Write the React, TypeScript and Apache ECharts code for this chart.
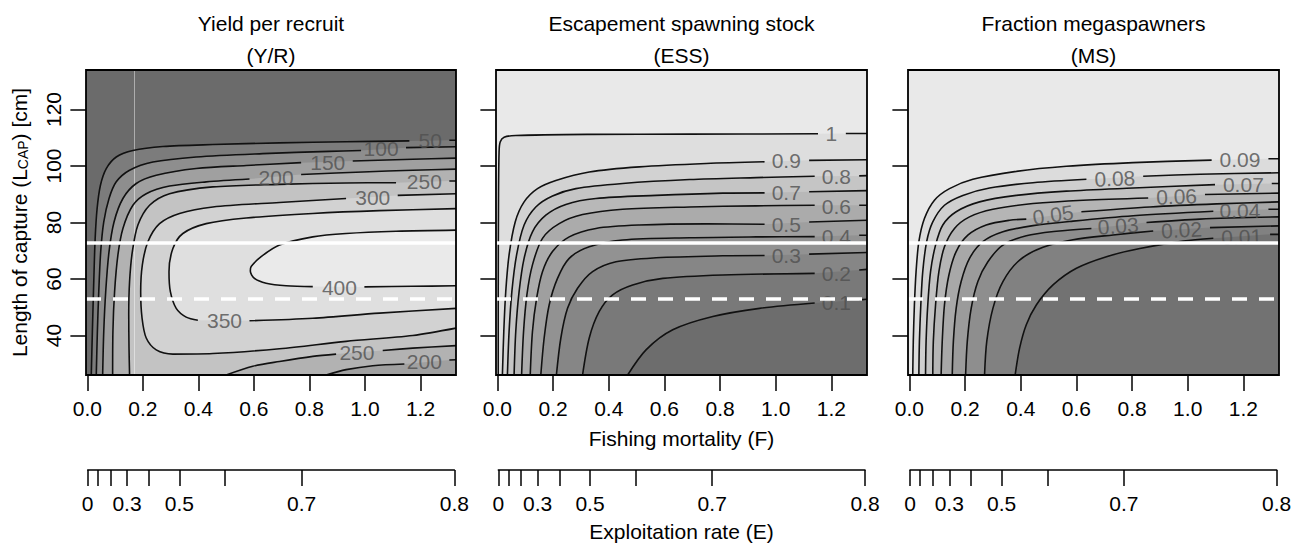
import React, { useEffect, useRef } from "react";
import * as echarts from "echarts";

type Pt = [number, number];
type Contour = Pt[][];
type Label = [string, number, number, number];

const FONT = '"Liberation Sans", Arial, Helvetica, sans-serif';
const FS = 21;

// ---- axes ----
const F_RANGE: Pt = [-0.005, 1.328];
const L_RANGE: Pt = [26, 134];
const fTicks = [0, 0.2, 0.4, 0.6, 0.8, 1.0, 1.2];
const lTicks = [40, 60, 80, 100, 120];
const M_NAT = 0.33; // E = F / (F + M)
const E_F_MAX = 1.32;
const eTicks = [0, 0.1, 0.2, 0.3, 0.4, 0.5, 0.6, 0.7, 0.8];
const eLabelled = [0, 0.3, 0.5, 0.7, 0.8];
const refLines = [73, 53]; // solid, dashed
const yrVertical = 0.168;

// ---- Yield per recruit contours (F, L) ----
const yr50: Contour = [
  [[0.014, 26], [0.018, 41.4], [0.023, 59.1], [0.028, 74.3], [0.035, 84.9], [0.047, 93.2], [0.068, 99.1], [0.104, 103.2], [0.164, 105.5], [0.272, 106.9], [0.452, 107.6], [0.692, 108.2], [0.932, 108.6], [1.16, 108.9]],
  [[1.304, 109.1], [1.328, 109.1]],
];
const yr100: Contour = [
  [[0.032, 26], [0.036, 41.4], [0.041, 55.5], [0.048, 69.7], [0.059, 80.2], [0.078, 88.5], [0.104, 94.4], [0.152, 98.5], [0.236, 101.4], [0.392, 103.2], [0.632, 104.4], [0.872, 105.2], [0.986, 105.5]],
  [[1.148, 106.5], [1.328, 106.8]],
];
const yr150: Contour = [
  [[0.055, 26], [0.059, 41.4], [0.066, 55.5], [0.078, 69.7], [0.096, 80.2], [0.128, 88.5], [0.176, 93.8], [0.248, 96.7], [0.392, 99.1], [0.572, 100.2], [0.77, 101.2]],
  [[0.956, 101.8], [1.172, 102.4], [1.328, 102.8]],
];
const yr200: Contour = [
  [[0.091, 26], [0.092, 41.4], [0.098, 55.5], [0.11, 68.5], [0.128, 77.9], [0.164, 86.1], [0.212, 90.2], [0.296, 92.9], [0.428, 94.4], [0.584, 95.4]],
  [[0.77, 97.0], [0.992, 97.9], [1.172, 98.5], [1.328, 98.9]],
];
const yr250: Contour = [
  [[0.152, 26], [0.15, 35.5], [0.149, 47.3], [0.152, 59.1], [0.162, 69.7], [0.182, 79.1], [0.224, 86.1], [0.296, 90.2], [0.452, 92.6], [0.692, 93.5], [0.932, 94.0], [1.112, 94.1]],
  [[1.304, 94.7], [1.328, 94.7]],
];
const yr300: Contour = [
  [[1.328, 90.2], [1.118, 89.6]],
  [[0.932, 88.5], [0.692, 87.1], [0.452, 85.5], [0.332, 83.2], [0.26, 79.6], [0.218, 73.2], [0.198, 65.0], [0.192, 55.5], [0.197, 46.1], [0.212, 39.1], [0.248, 34.9], [0.308, 33.4], [0.452, 33.6], [0.692, 35.3], [0.932, 37.9], [1.172, 40.0], [1.328, 42.6]],
];
const yr350: Contour = [
  [[1.328, 84.9], [1.052, 84.2], [0.812, 83.2], [0.572, 81.6], [0.428, 79.6], [0.344, 76.1], [0.308, 70.8], [0.294, 62.6], [0.299, 55.5], [0.32, 49.6], [0.356, 46.5], [0.398, 45.4]],
  [[0.584, 45.2], [0.812, 46.1], [1.052, 47.9], [1.328, 49.6]],
];
const yr400: Contour = [
  [[1.328, 77.3], [1.112, 76.9], [0.932, 76.1], [0.812, 74.9], [0.692, 72.0], [0.626, 67.9], [0.59, 64.4], [0.587, 62.8], [0.602, 60.2], [0.644, 58.5], [0.716, 57.6], [0.812, 57.3]],
  [[0.998, 57.2], [1.172, 57.4], [1.328, 57.6]],
];
const yr250Low: Contour = [
  [[0.5, 26], [0.596, 29.1], [0.692, 30.8], [0.812, 32.6], [0.896, 33.4]],
  [[1.064, 34.7], [1.172, 35.5], [1.328, 36.4]],
];
const yr200Low: Contour = [
  [[0.86, 26], [0.932, 27.9], [1.028, 29.3], [1.142, 29.9]],
  [[1.304, 31.3], [1.328, 31.4]],
];
const yrLabels: Label[] = [
  ["50", 1.235, 108.9, 0], ["100", 1.058, 106.1, 0], ["150", 0.866, 101.4, 0], ["200", 0.68, 95.9, 0],
  ["250", 1.214, 94.4, 0], ["300", 1.028, 88.7, 0], ["400", 0.908, 56.9, 0], ["350", 0.494, 45.3, 0],
  ["250", 0.971, 33.8, 0], ["200", 1.214, 30.8, 0],
];

// ---- Escapement spawning stock contours ----
const ess1: Contour = [
  [[0.003, 26], [0.003, 53.2], [0.004, 88.5], [0.006, 104.9], [0.01, 108.5], [0.024, 110.2], [0.066, 110.8], [0.33, 111.2], [0.69, 111.3], [1.152, 111.4]],
  [[1.252, 111.5], [1.328, 111.5]],
];
const ess09: Contour = [
  [[0.018, 26], [0.023, 41.4], [0.03, 55.5], [0.042, 68.5], [0.064, 80.2], [0.096, 87.3], [0.144, 92.0], [0.21, 94.9], [0.33, 97.9], [0.51, 99.7], [0.75, 100.9], [0.96, 101.5]],
  [[1.12, 102.0], [1.328, 102.2]],
];
const ess08: Contour = [
  [[0.036, 26], [0.042, 41.4], [0.052, 55.5], [0.069, 68.5], [0.096, 79.1], [0.138, 85.5], [0.198, 89.4], [0.282, 92.0], [0.45, 93.8], [0.69, 95.2], [0.93, 95.9], [1.14, 96.4]],
  [[1.3, 96.5], [1.328, 96.6]],
];
const ess07: Contour = [
  [[0.06, 26], [0.066, 41.4], [0.078, 55.5], [0.096, 67.3], [0.126, 76.7], [0.174, 82.6], [0.246, 86.4], [0.354, 88.5], [0.57, 89.6], [0.81, 90.4], [0.96, 90.5]],
  [[1.12, 90.9], [1.328, 91.3]],
];
const ess06: Contour = [
  [[0.087, 26], [0.094, 41.4], [0.106, 54.4], [0.126, 65.0], [0.162, 74.4], [0.222, 79.6], [0.306, 82.8], [0.45, 84.7], [0.69, 85.5], [0.93, 85.9], [1.14, 86.1]],
  [[1.3, 86.1], [1.328, 86.1]],
];
const ess05: Contour = [
  [[0.118, 26], [0.126, 41.4], [0.141, 53.2], [0.162, 62.6], [0.198, 69.7], [0.258, 74.9], [0.354, 77.9], [0.51, 79.1], [0.75, 79.5], [0.96, 79.4]],
  [[1.12, 80.2], [1.328, 80.8]],
];
const ess04: Contour = [
  [[0.156, 26], [0.168, 39.1], [0.186, 50.8], [0.216, 60.2], [0.258, 67.3], [0.33, 71.4], [0.45, 73.8], [0.69, 74.6], [0.93, 74.9], [1.14, 75.0]],
  [[1.3, 75.5], [1.328, 75.5]],
];
const ess03: Contour = [
  [[0.212, 26], [0.228, 39.1], [0.252, 49.6], [0.288, 56.7], [0.342, 62.6], [0.426, 66.1], [0.57, 67.5], [0.81, 68.2], [0.96, 68.3]],
  [[1.12, 68.8], [1.328, 69.4]],
];
const ess02: Contour = [
  [[0.306, 26], [0.33, 39.1], [0.366, 48.5], [0.414, 54.4], [0.486, 57.9], [0.594, 60.2], [0.81, 61.4], [1.14, 62.0]],
  [[1.3, 63.2], [1.328, 63.4]],
];
const ess01: Contour = [
  [[0.468, 26], [0.534, 34.9], [0.63, 42.0], [0.774, 46.7], [0.942, 49.6], [1.14, 51.5]],
  [[1.3, 52.6], [1.328, 52.8]],
];
const essLabels: Label[] = [
  ["1", 1.2, 111.4, 0], ["0.9", 1.038, 101.8, 0], ["0.8", 1.218, 96.4, 0], ["0.7", 1.038, 90.5, 0],
  ["0.6", 1.218, 85.5, 0], ["0.5", 1.038, 79.3, 0], ["0.4", 1.218, 74.9, 0], ["0.3", 1.038, 68.2, 0],
  ["0.2", 1.218, 62.0, 0], ["0.1", 1.218, 51.8, 0],
];

// ---- Fraction megaspawners contours ----
const ms09: Contour = [
  [[0.012, 26], [0.014, 37.9], [0.018, 50.8], [0.024, 62.6], [0.034, 73.2], [0.054, 81.4], [0.09, 87.9], [0.144, 92.0], [0.228, 95.3], [0.384, 98.1], [0.564, 99.9], [0.804, 101.2], [1.086, 102.1]],
  [[1.29, 102.6], [1.328, 102.6]],
];
const ms08: Contour = [
  [[0.034, 26], [0.036, 37.9], [0.041, 50.8], [0.048, 62.6], [0.062, 73.2], [0.084, 80.2], [0.126, 86.1], [0.192, 89.6], [0.288, 92.2], [0.444, 94.1], [0.636, 95.3]],
  [[0.84, 96.4], [1.044, 97.1], [1.328, 97.6]],
];
const ms07: Contour = [
  [[0.058, 26], [0.06, 37.9], [0.066, 50.8], [0.076, 62.6], [0.094, 72.0], [0.12, 79.1], [0.168, 83.8], [0.252, 87.3], [0.384, 89.6], [0.564, 91.1], [0.804, 92.2], [1.098, 93.4]],
  [[1.302, 93.8], [1.328, 93.8]],
];
const ms06: Contour = [
  [[0.084, 26], [0.086, 37.9], [0.094, 50.8], [0.106, 62.6], [0.126, 71.4], [0.162, 77.9], [0.216, 82.0], [0.3, 84.7], [0.444, 86.7], [0.624, 87.9], [0.858, 88.7]],
  [[1.062, 89.9], [1.328, 90.4]],
];
const ms05: Contour = [
  [[0.114, 26], [0.118, 37.9], [0.126, 50.8], [0.142, 61.4], [0.168, 69.7], [0.21, 75.5], [0.276, 79.1], [0.36, 80.8], [0.42, 81.2]],
  [[0.618, 83.8], [0.864, 85.5], [1.104, 86.6], [1.328, 87.3]],
];
const ms04: Contour = [
  [[0.154, 26], [0.158, 37.9], [0.168, 49.6], [0.186, 59.1], [0.216, 67.3], [0.264, 73.2], [0.336, 76.7], [0.444, 78.9], [0.588, 80.5], [0.804, 82.4], [1.092, 84.0]],
  [[1.29, 84.7], [1.328, 84.7]],
];
const ms03: Contour = [
  [[0.202, 26], [0.208, 37.9], [0.222, 49.6], [0.246, 59.1], [0.282, 66.1], [0.336, 72.0], [0.42, 75.3], [0.528, 76.9], [0.654, 77.9]],
  [[0.852, 80.0], [1.044, 81.2], [1.328, 82.0]],
];
const ms02: Contour = [
  [[0.27, 26], [0.278, 37.9], [0.3, 49.6], [0.336, 59.1], [0.396, 66.7], [0.48, 71.2], [0.588, 73.9], [0.732, 75.6], [0.876, 77.0]],
  [[1.08, 78.2], [1.328, 78.8]],
];
const ms01: Contour = [
  [[0.38, 26], [0.396, 35.5], [0.42, 43.8], [0.456, 50.8], [0.516, 57.9], [0.6, 63.8], [0.708, 67.9], [0.828, 70.8], [0.984, 73.4], [1.092, 74.4]],
  [[1.296, 75.8], [1.328, 75.8]],
];
const msLabels: Label[] = [
  ["0.09", 1.188, 102.4, 0], ["0.08", 0.738, 95.6, 2], ["0.07", 1.2, 93.5, 0], ["0.06", 0.96, 89.2, 2],
  ["0.05", 0.516, 82.7, 8], ["0.04", 1.188, 84.2, 0], ["0.03", 0.75, 78.8, 4], ["0.02", 0.978, 77.4, 3],
  ["0.01", 1.194, 74.9, 2],
];

// ---- band shades (style) ----
const yrColors = ["#6b6b6b", "#7c7c7c", "#8e8e8e", "#a0a0a0", "#b2b2b2", "#c3c3c3", "#d2d2d2", "#dfdfdf", "#eaeaea"];
const essColors = ["#e9e9e9", "#dedede", "#d2d2d2", "#c5c5c5", "#b8b8b8", "#ababab", "#9f9f9f", "#929292", "#868686", "#797979", "#6d6d6d"];
const msColors = ["#e9e9e9", "#dcdcdc", "#cfcfcf", "#c2c2c2", "#b5b5b5", "#a8a8a8", "#9b9b9b", "#8e8e8e", "#818181", "#727272"];

const titles = [
  ["Yield per recruit", "(Y/R)"],
  ["Escapement spawning stock", "(ESS)"],
  ["Fraction megaspawners", "(MS)"],
];

// ---- layout (pixels) ----
const GRID_LEFT = [86, 496, 908];
const GRID_WIDTH = [370, 371, 371];
const GRID_TOP = 70;
const GRID_H = 305;
const E_LEFT = [87.7, 498.3, 910];
const E_WIDTH = 366.7;
const E_LINE_Y = 470;

function buildOption() {
  const [FMIN, FMAX] = F_RANGE;
  const [LMIN, LMAX] = L_RANGE;
  const rect: Pt[] = [[FMIN, LMIN], [FMAX, LMIN], [FMAX, LMAX], [FMIN, LMAX]];
  const flat = (c: Contour): Pt[] => ([] as Pt[]).concat(...c);
  const toCorner = (c: Contour): Pt[] => [...flat(c), [FMAX, LMIN]];
  const between = (up: Contour, low: Contour): Pt[] => [...flat(up), ...flat(low).slice().reverse()];

  const yrContours = [yr50, yr100, yr150, yr200, yr250, yr300, yr350, yr400, yr250Low, yr200Low];
  const essContours = [ess1, ess09, ess08, ess07, ess06, ess05, ess04, ess03, ess02, ess01];
  const msContours = [ms09, ms08, ms07, ms06, ms05, ms04, ms03, ms02, ms01];

  const panels = [
    {
      polys: [rect, toCorner(yr50), toCorner(yr100), toCorner(yr150), between(yr200, yr200Low), between(yr250, yr250Low), flat(yr300), flat(yr350), flat(yr400)],
      colors: yrColors, contours: yrContours, labels: yrLabels,
    },
    { polys: [rect, ...essContours.map(toCorner)], colors: essColors, contours: essContours, labels: essLabels },
    { polys: [rect, ...msContours.map(toCorner)], colors: msColors, contours: msContours, labels: msLabels },
  ];

  // E -> F position on the axis (rounded to avoid floating-point overshoot of the axis max)
  const eToF = (e: number) => Math.round(((M_NAT * e) / (1 - e)) * 1e6) / 1e6;
  const eTickF = eTicks.map(eToF);
  const eLabelF = eLabelled.map(eToF);

  const grid: any[] = [];
  const xAxis: any[] = [];
  const yAxis: any[] = [];
  const eGrid: any[] = [];
  const eX: any[] = [];
  const eY: any[] = [];
  const series: any[] = [];
  const graphic: any[] = [];
  const tickStyle = { color: "#000", width: 1.5 };

  panels.forEach((p, g) => {
    grid.push({
      left: GRID_LEFT[g], top: GRID_TOP, width: GRID_WIDTH[g], height: GRID_H,
      show: true, z: 10, backgroundColor: "rgba(0,0,0,0)", borderColor: "#000", borderWidth: 1.8,
    });
    xAxis.push({
      type: "value", gridIndex: g, min: FMIN, max: FMAX,
      axisLine: { show: false }, splitLine: { show: false },
      axisTick: { show: true, length: 16, customValues: fTicks, lineStyle: tickStyle },
      axisLabel: { customValues: fTicks, formatter: (v: number) => v.toFixed(1), fontSize: FS, color: "#000", margin: 23, fontFamily: FONT },
    });
    yAxis.push({
      type: "value", gridIndex: g, min: LMIN, max: LMAX,
      axisLine: { show: false }, splitLine: { show: false },
      axisTick: { show: true, length: 17, customValues: lTicks, lineStyle: tickStyle },
      axisLabel: { show: g === 0, customValues: lTicks, rotate: 90, fontSize: FS, color: "#000", margin: 22, fontFamily: FONT },
      ...(g === 0
        ? {
            name: "Length of capture (L{sub|CAP}) [cm]",
            nameLocation: "middle", nameRotate: 90, nameGap: 56,
            nameTextStyle: {
              fontSize: FS, color: "#000", fontFamily: FONT,
              rich: { sub: { fontSize: 14, color: "#000", fontFamily: FONT, verticalAlign: "bottom" } },
            },
          }
        : {}),
    });

    // filled bands
    series.push({
      type: "custom", coordinateSystem: "cartesian2d", xAxisIndex: g, yAxisIndex: g, z: 1, silent: true, clip: true,
      data: p.polys.map((poly) => poly[0]),
      renderItem: (params: any, api: any) => ({
        type: "polygon", z2: params.dataIndex,
        shape: { points: p.polys[params.dataIndex].map((pt) => api.coord(pt)) },
        style: { fill: p.colors[params.dataIndex] },
      }),
    });

    // contour lines
    p.contours.forEach((c) =>
      c.forEach((seg) =>
        series.push({
          type: "line", xAxisIndex: g, yAxisIndex: g, data: seg, symbol: "none", smooth: 0.3,
          lineStyle: { color: "#111", width: 1.6 }, z: 3, silent: true,
        })
      )
    );

    // contour labels
    series.push({
      type: "scatter", xAxisIndex: g, yAxisIndex: g, symbolSize: 0, z: 4, silent: true,
      data: p.labels.map(([t, f, l, r]) => ({ name: t, value: [f, l], label: { rotate: r } })),
      label: { show: true, position: "inside", formatter: "{b}", fontSize: FS, color: "#4f4f4f", fontFamily: FONT },
    });

    // vertical light line (Y/R only)
    if (g === 0) {
      series.push({
        type: "line", xAxisIndex: g, yAxisIndex: g, data: [], silent: true,
        markLine: {
          silent: true, z: 2, symbol: ["none", "none"], animation: false, label: { show: false },
          data: [{ xAxis: yrVertical, lineStyle: { color: "rgba(255,255,255,0.45)", width: 1, type: "solid" } }],
        },
      });
    }

    // white reference lines
    series.push({
      type: "line", xAxisIndex: g, yAxisIndex: g, data: [], silent: true,
      markLine: {
        silent: true, z: 6, symbol: ["none", "none"], animation: false, label: { show: false },
        data: [
          { yAxis: refLines[0], lineStyle: { color: "#fff", width: 3.5, type: "solid" } },
          { yAxis: refLines[1], lineStyle: { color: "#fff", width: 3.5, type: [15, 12] } },
        ],
      },
    });

    // exploitation rate axis
    eGrid.push({ left: E_LEFT[g], top: E_LINE_Y - 1, width: E_WIDTH, height: 1, show: false });
    eX.push({
      type: "value", gridIndex: 3 + g, min: 0, max: E_F_MAX, position: "bottom",
      axisLine: { show: true, lineStyle: tickStyle }, splitLine: { show: false },
      axisTick: { show: true, length: 16, customValues: eTickF, lineStyle: tickStyle },
      axisLabel: {
        customValues: eLabelF, showMaxLabel: true, showMinLabel: true, fontSize: FS, color: "#000", margin: 23, fontFamily: FONT,
        formatter: (v: number) => {
          let best = 0;
          eLabelF.forEach((f, i) => { if (Math.abs(f - v) < Math.abs(eLabelF[best] - v)) best = i; });
          const e = eLabelled[best];
          return e === 0 ? "0" : e.toFixed(1);
        },
      },
    });
    eY.push({ type: "value", gridIndex: 3 + g, show: false, min: 0, max: 1 });

    // titles
    const cx = GRID_LEFT[g] + GRID_WIDTH[g] / 2;
    graphic.push({ type: "text", x: cx, y: 23, silent: true, style: { text: titles[g][0], fontSize: FS, fontFamily: FONT, fill: "#000", align: "center", verticalAlign: "middle" } });
    graphic.push({ type: "text", x: cx, y: 55, silent: true, style: { text: titles[g][1], fontSize: FS, fontFamily: FONT, fill: "#000", align: "center", verticalAlign: "middle" } });
  });

  const midX = GRID_LEFT[1] + GRID_WIDTH[1] / 2;
  graphic.push({ type: "text", x: midX, y: 438.5, silent: true, style: { text: "Fishing mortality (F)", fontSize: FS, fontFamily: FONT, fill: "#000", align: "center", verticalAlign: "middle" } });
  graphic.push({ type: "text", x: midX, y: 531.5, silent: true, style: { text: "Exploitation rate (E)", fontSize: FS, fontFamily: FONT, fill: "#000", align: "center", verticalAlign: "middle" } });

  return {
    animation: false,
    backgroundColor: "#ffffff",
    textStyle: { fontFamily: FONT },
    grid: [...grid, ...eGrid],
    xAxis: [...xAxis, ...eX],
    yAxis: [...yAxis, ...eY],
    series, graphic,
  };
}

export default function App() {
  const ref = useRef<HTMLDivElement>(null);
  useEffect(() => {
    document.body.style.margin = "0";
    if (!ref.current) return;
    const chart = echarts.init(ref.current, null, { renderer: "svg" });
    chart.setOption(buildOption() as any);
    return () => chart.dispose();
  }, []);
  return <div ref={ref} style={{ width: 1299, height: 544 }} />;
}
